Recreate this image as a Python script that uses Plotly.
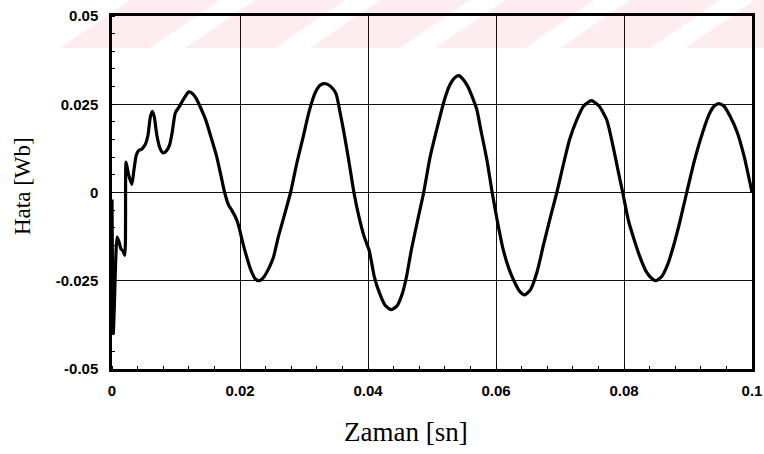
import plotly.graph_objects as go

# ---- data ----
time_s = [
    0.0000, 0.0002, 0.0004, 0.0006, 0.0008, 0.0011, 0.0014, 0.0017, 0.0020, 0.0022,
    0.0026, 0.0031, 0.0034, 0.0038, 0.0042, 0.0046, 0.0049, 0.0052, 0.0056, 0.0060,
    0.0063, 0.0066, 0.0070, 0.0075, 0.0080, 0.0085, 0.0090, 0.0094, 0.0099, 0.0105,
    0.0112, 0.0120, 0.0126, 0.0131, 0.0139, 0.0147, 0.0155, 0.0163, 0.0170, 0.0176,
    0.0182, 0.0187, 0.0193, 0.0198, 0.0204, 0.0210, 0.0217, 0.0224, 0.0230, 0.0237,
    0.0245, 0.0252, 0.0260, 0.0270, 0.0279, 0.0289, 0.0299, 0.0308, 0.0318, 0.0326,
    0.0334, 0.0342, 0.0350, 0.0356, 0.0362, 0.0370, 0.0378, 0.0386, 0.0394, 0.0402,
    0.0410, 0.0418, 0.0427, 0.0436, 0.0445, 0.0453, 0.0460, 0.0468, 0.0478, 0.0487,
    0.0497, 0.0509, 0.0519, 0.0528, 0.0536, 0.0542, 0.0548, 0.0556, 0.0563, 0.0570,
    0.0576, 0.0586, 0.0594, 0.0602, 0.0611, 0.0620, 0.0628, 0.0637, 0.0645, 0.0654,
    0.0664, 0.0674, 0.0685, 0.0695, 0.0706, 0.0715, 0.0726, 0.0737, 0.0749, 0.0761,
    0.0773, 0.0783, 0.0791, 0.0798, 0.0807, 0.0817, 0.0825, 0.0835, 0.0843, 0.0850,
    0.0859, 0.0868, 0.0876, 0.0887, 0.0898, 0.0910, 0.0923, 0.0934, 0.0941, 0.0948,
    0.0956, 0.0966, 0.0977, 0.0988, 0.1000,
]
error_wb = [
    -0.0020, -0.0400, -0.0300, -0.0180, -0.0126, -0.0140, -0.0160, -0.0165, -0.0178, 0.0086,
    0.0050, 0.0023, 0.0060, 0.0106, 0.0120, 0.0122, 0.0128, 0.0136, 0.0160, 0.0215,
    0.0230, 0.0215, 0.0163, 0.0125, 0.0112, 0.0118, 0.0135, 0.0170, 0.0226, 0.0243,
    0.0265, 0.0285, 0.0280, 0.0268, 0.0238, 0.0203, 0.0155, 0.0106, 0.0050, 0.0000,
    -0.0035, -0.0050, -0.0070, -0.0095, -0.0140, -0.0180, -0.0220, -0.0245, -0.0250, -0.0240,
    -0.0215, -0.0185, -0.0125, -0.0060, 0.0000, 0.0085, 0.0160, 0.0230, 0.0285, 0.0305,
    0.0308, 0.0300, 0.0280, 0.0230, 0.0174, 0.0090, 0.0000, -0.0070, -0.0125, -0.0165,
    -0.0240, -0.0285, -0.0320, -0.0332, -0.0322, -0.0290, -0.0240, -0.0160, -0.0075, 0.0000,
    0.0100, 0.0190, 0.0260, 0.0305, 0.0326, 0.0331, 0.0322, 0.0300, 0.0270, 0.0235,
    0.0180, 0.0090, 0.0000, -0.0080, -0.0160, -0.0215, -0.0250, -0.0280, -0.0290, -0.0275,
    -0.0226, -0.0150, -0.0070, 0.0000, 0.0085, 0.0150, 0.0205, 0.0245, 0.0260, 0.0245,
    0.0206, 0.0130, 0.0060, 0.0000, -0.0080, -0.0140, -0.0183, -0.0225, -0.0243, -0.0250,
    -0.0238, -0.0205, -0.0160, -0.0085, 0.0000, 0.0090, 0.0171, 0.0225, 0.0245, 0.0252,
    0.0245, 0.0215, 0.0170, 0.0100, 0.0000,
]
x_tick_vals = [0, 0.02, 0.04, 0.06, 0.08, 0.1]
x_tick_text = ["0", "0.02", "0.04", "0.06", "0.08", "0.1"]
y_tick_vals = [-0.05, -0.025, 0, 0.025, 0.05]
y_tick_text = ["-0.05", "-0.025", "0", "0.025", "0.05"]
x_title = "Zaman [sn]"
y_title = "Hata [Wb]"

# ---- layout geometry ----
W, H = 764, 454
L, R, T, B = 112, 12, 16, 85
PW, PH = W - L - R, H - T - B


def px_x(px):
    return (px - L) / PW


def px_y(py):
    return (H - B - py) / PH


fig = go.Figure(
    go.Scatter(
        x=time_s, y=error_wb, mode="lines",
        line=dict(color="black", width=3.2, shape="spline", smoothing=0.6),
        hoverinfo="skip", showlegend=False,
    )
)

tick_font = dict(family="Liberation Sans, Arial, sans-serif", size=15, color="black", weight="bold")
axis_common = dict(
    showgrid=True, gridcolor="#111111", gridwidth=1,
    showline=True, linecolor="black", linewidth=2.5, mirror=True,
    zeroline=False, ticks="", tickfont=tick_font, tickmode="array",
    automargin=False,
)

fig.update_xaxes(
    range=[0, 0.1], tickvals=x_tick_vals, ticktext=x_tick_text,
    ticklabelstandoff=6,
    minor=dict(ticks="inside", ticklen=3, tickcolor="black", dtick=0.004, tick0=0, showgrid=False),
    **axis_common,
)
fig.update_yaxes(
    range=[-0.05, 0.05], tickvals=y_tick_vals, ticktext=y_tick_text,
    ticklabelstandoff=8,
    minor=dict(ticks="inside", ticklen=3, tickcolor="black", dtick=0.005, tick0=0, showgrid=False),
    **axis_common,
)

# faint pink watermark stripes at the top of the page
shapes = []
for x0 in [60, 185, 310, 435, 560, 685]:
    path = "M {:.4f},{:.4f} L {:.4f},{:.4f} L {:.4f},{:.4f} L {:.4f},{:.4f} Z".format(
        px_x(x0), px_y(48), px_x(x0 + 90), px_y(48),
        px_x(x0 + 160), px_y(0), px_x(x0 + 70), px_y(0),
    )
    shapes.append(dict(type="path", xref="paper", yref="paper", path=path,
                       fillcolor="#fdedf0", line=dict(width=0), layer="below"))

title_font_x = dict(family="Liberation Serif, Times New Roman, serif", size=27, color="black")
title_font_y = dict(family="Liberation Serif, Times New Roman, serif", size=23, color="black")

fig.update_layout(
    width=W, height=H,
    margin=dict(l=L, r=R, t=T, b=B, pad=0, autoexpand=False),
    paper_bgcolor="white", plot_bgcolor="white",
    shapes=shapes,
    annotations=[
        dict(text=x_title, xref="paper", yref="paper", x=px_x(406), y=px_y(432),
             showarrow=False, font=title_font_x, xanchor="center", yanchor="middle"),
        dict(text=y_title, xref="paper", yref="paper", x=px_x(23), y=px_y(186),
             showarrow=False, font=title_font_y, textangle=-90,
             xanchor="center", yanchor="middle"),
    ],
)

fig.write_html("out.html")
